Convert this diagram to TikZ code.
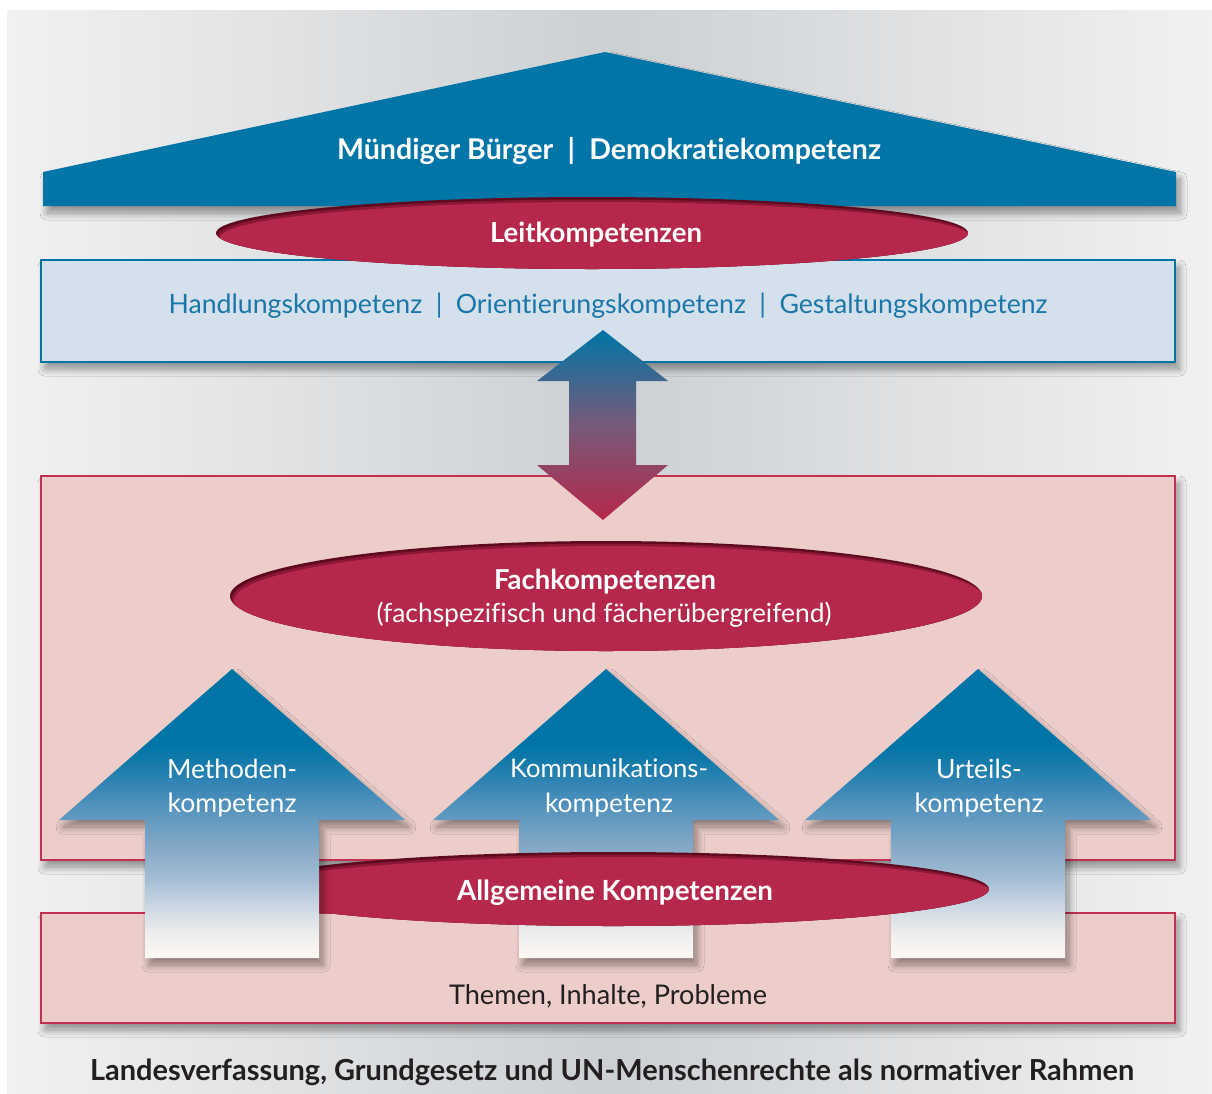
\documentclass[tikz,border=0pt]{standalone}
\usepackage{fontspec}
\setmainfont{Lato}[Ligatures=NoCommon]
\usetikzlibrary{shadows.blur}
\definecolor{roofblue}{HTML}{0075A6}
\definecolor{crim}{HTML}{B5284B}
\definecolor{crimdark}{HTML}{5E0A1F}
\definecolor{crimmid}{HTML}{8A1735}
\definecolor{boxblue}{HTML}{D4E0EC}
\definecolor{boxpink}{HTML}{ECCDC9}
\definecolor{pinkline}{HTML}{C13152}
\definecolor{txtblue}{HTML}{1A77A8}
\definecolor{txtdark}{HTML}{231F20}
\definecolor{bgedge}{HTML}{F1F1F2}
\definecolor{bgmid}{HTML}{CCD0D3}
\definecolor{dmid}{HTML}{775A7A}
\definecolor{aw0}{HTML}{FBF8F4}
\definecolor{aw1}{HTML}{F0EFEE}
\definecolor{aw2}{HTML}{D3DCE5}
\definecolor{aw3}{HTML}{A5BED5}
\definecolor{aw4}{HTML}{86A9C7}
\definecolor{aw5}{HTML}{5D97BF}
\definecolor{aw6}{HTML}{3585B5}
\definecolor{aw7}{HTML}{0C78A8}
\pgfdeclareverticalshading{upgrad}{100bp}{color(0bp)=(aw0); color(25bp)=(aw0); color(29bp)=(aw1); color(33bp)=(aw2); color(38.5bp)=(aw3); color(44bp)=(aw4); color(50bp)=(aw5); color(55bp)=(aw6); color(60bp)=(aw7); color(62bp)=(roofblue); color(100bp)=(roofblue)}
\newlength\fitlen
\newcommand\fitw[2]{\settowidth\fitlen{\fontsize{10pt}{12pt}\selectfont #2}\pgfmathsetmacro\fitsz{10*#1/\fitlen}\pgfmathsetmacro\fitbl{1.2*\fitsz}\fontsize{\fitsz pt}{\fitbl pt}\selectfont #2}
\newcommand\crimell[4]{%
  \fill[crimdark] (#1,#2) ellipse [x radius=#3,y radius=#4];
  \begin{scope}
    \clip (#1,#2) ellipse [x radius=#3,y radius=#4];
    \fill[crimmid] (#1+2,#2+2.5) ellipse [x radius=#3,y radius=#4];
    \fill[crim] (#1+4,#2+5) ellipse [x radius=#3,y radius=#4];
  \end{scope}}
\newcommand\uparrowshape[1]{(#1,669) -- (#1+173,820) -- (#1+87,820) -- (#1+87,958) -- (#1-87,958) -- (#1-87,820) -- (#1-173,820) -- cycle}
\begin{document}
\begin{tikzpicture}[x=1pt,y=-1pt,
  shad/.style={blur shadow={shadow xshift=4pt,shadow yshift=-7pt,shadow blur radius=7pt,shadow blur steps=10,shadow opacity=40}},
  boxb/.style={draw=roofblue,line width=2pt,fill=boxblue,shad},
  boxp/.style={draw=pinkline,line width=2pt,fill=boxpink,shad},
  upar/.style={shading=upgrad,shad},
  lbl/.style={inner sep=0pt,anchor=base},
  wlbl/.style={lbl,text=white}]
\useasboundingbox (0,0) rectangle (1212,1093);
\fill[white] (0,0) rectangle (1212,1093);
\shade[left color=bgedge,right color=bgedge,middle color=bgmid] (7,10) rectangle (1212,1093);
% roof
\fill[roofblue,shad] (43,206) -- (43,172) -- (605,52) -- (1176,172) -- (1176,206) -- cycle;
% boxes
\draw[boxb] (41,260) rectangle (1175,362);
\draw[boxp] (41,476) rectangle (1175,860);
\draw[boxp] (41,913) rectangle (1175,1023);
% Leitkompetenzen ellipse
\crimell{592}{233}{376}{36}
% double arrow
\shade[top color=roofblue,bottom color=crim,middle color=dmid]
  (603,330) -- (668,381) -- (636,381) -- (636,465) -- (668,465) -- (603,520)
  -- (537,465) -- (569,465) -- (569,381) -- (537,381) -- cycle;
% Fachkompetenzen ellipse
\crimell{606}{596}{376}{55}
% arrows (middle, right)
\shade[upar] \uparrowshape{606};
\shade[upar] \uparrowshape{978};
% Allgemeine ellipse
\crimell{613}{889}{376}{37}
% left arrow
\shade[upar] \uparrowshape{232};
% texts
\node[wlbl] (roof) at (609,159) {\fitw{544}{\bfseries Mündiger Bürger\hspace{0.5em}|\hspace{0.5em}Demokratiekompetenz}};
\node[wlbl] (leit) at (596,242) {\fitw{212}{\bfseries Leitkompetenzen}};
\node[lbl,text=txtblue] (hok) at (608,313) {\fitw{879}{Handlungskompetenz\hspace{0.5em}|\hspace{0.5em}Orientierungskompetenz\hspace{0.5em}|\hspace{0.5em}Gestaltungskompetenz}};
\node[wlbl] (fach) at (605,589) {\fitw{222}{\bfseries Fachkompetenzen}};
\node[wlbl] (fachsub) at (604,622) {\fitw{455}{(fachspezifisch und fächerübergreifend)}};
\node[wlbl] (meth1) at (232,778) {\fitw{130}{Methoden-}};
\node[wlbl] (meth2) at (232,812) {\fitw{129}{kompetenz}};
\node[wlbl] (kom1) at (609,777) {\fitw{198}{Kommunikations-}};
\node[wlbl] (kom2) at (609,812) {\fitw{128}{kompetenz}};
\node[wlbl] (urt1) at (979,778) {\fitw{86}{Urteils-}};
\node[wlbl] (urt2) at (979,812) {\fitw{129}{kompetenz}};
\node[wlbl] (allg) at (615,900) {\fitw{316}{\bfseries Allgemeine Kompetenzen}};
\node[lbl,text=txtdark] (them) at (608,1004) {\fitw{318}{Themen, Inhalte, Probleme}};
\node[lbl,text=txtdark] (rahmen) at (612,1080) {\fitw{1044}{\bfseries Landesverfassung, Grundgesetz und UN-Menschenrechte als normativer Rahmen}};
\end{tikzpicture}
\end{document}
